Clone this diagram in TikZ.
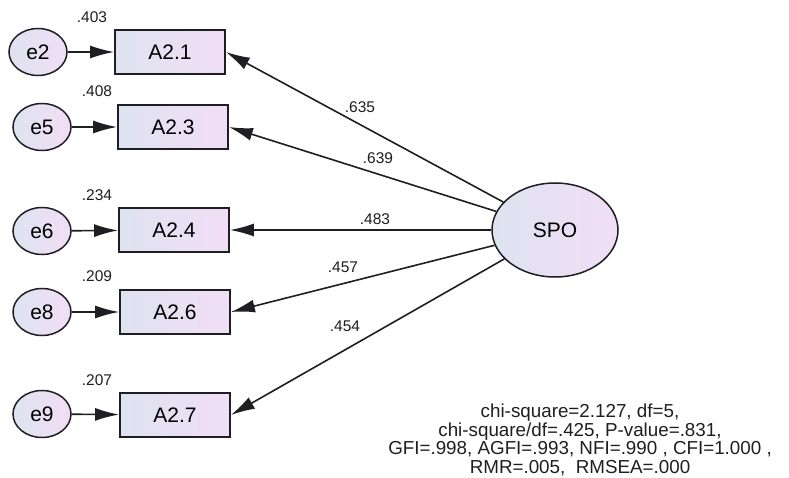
\documentclass[tikz,border=0pt]{standalone}
\usepackage{fontspec}
\setmainfont{Liberation Sans}
\usetikzlibrary{arrows.meta,shapes.geometric,positioning}
\definecolor{fillleft}{RGB}{222,227,240}
\definecolor{fillright}{RGB}{241,222,246}
\definecolor{inkgray}{RGB}{30,30,35}

\begin{document}
\begin{tikzpicture}[x=1pt,y=-1pt,
  obs/.style={draw=inkgray,line width=1.8pt,left color=fillleft,right color=fillright,minimum width=110pt,minimum height=44pt,font=\fontsize{21}{24}\selectfont},
  err/.style={ellipse,draw=inkgray,line width=1.5pt,left color=fillleft,right color=fillright,minimum width=58pt,minimum height=47pt,inner sep=0pt,font=\fontsize{21}{24}\selectfont},
  lat/.style={ellipse,draw=inkgray,line width=1.5pt,left color=fillleft,right color=fillright,minimum width=126pt,minimum height=94pt,inner sep=0pt,font=\fontsize{21}{24}\selectfont},
  load/.style={inkgray,line width=1.6pt,-{Latex[length=24pt,width=13pt]}},
  est/.style={inkgray,font=\fontsize{15.5}{18}\selectfont}]
\useasboundingbox (0,0) rectangle (789,478);
% error terms
\node[err] (e2) at (38,52) {e2};
\node[err] (e5) at (42,127) {e5};
\node[err] (e6) at (42,231) {e6};
\node[err] (e8) at (42,312) {e8};
\node[err] (e9) at (42,414) {e9};
% observed items
\node[obs] (a21) at (170,52) {A2.1};
\node[obs] (a23) at (173,127) {A2.3};
\node[obs] (a24) at (174,230) {A2.4};
\node[obs] (a26) at (175,312) {A2.6};
\node[obs] (a27) at (175,415) {A2.7};
% latent factor
\node[lat] (spo) at (555,230) {SPO};
% squared multiple correlations
\node[est] (r21) at (92,17) {.403};
\node[est] (r23) at (97,91) {.408};
\node[est] (r24) at (97,195) {.234};
\node[est] (r26) at (97,276) {.209};
\node[est] (r27) at (97,380) {.207};
% error paths
\draw[load] (e2) -- (a21);
\draw[load] (e5) -- (a23);
\draw[load] (e6) -- (a24);
\draw[load] (e8) -- (a26);
\draw[load] (e9) -- (a27);
% loadings
\draw[load] (spo) -- (a21.east);
\draw[load] (spo) -- (a23.east);
\draw[load] (spo) -- (a24.east);
\draw[load] (spo) -- (a26.east);
\draw[load] (spo) -- (a27.east);
\node[est] (l21) at (360,107) {.635};
\node[est] (l23) at (378,158) {.639};
\node[est] (l24) at (375,219) {.483};
\node[est] (l26) at (343,267) {.457};
\node[est] (l27) at (345,326) {.454};
% fit indices
\node[inkgray,align=center,inner sep=0pt,font=\fontsize{18.8}{18.6}\selectfont] (fit) at (580,440)
  {chi-square=2.127, df=5,\\chi-square/df=.425, P-value=.831,\\GFI=.998, AGFI=.993, NFI=.990 , CFI=1.000 ,\\RMR=.005,\ \ RMSEA=.000};
\end{tikzpicture}
\end{document}
